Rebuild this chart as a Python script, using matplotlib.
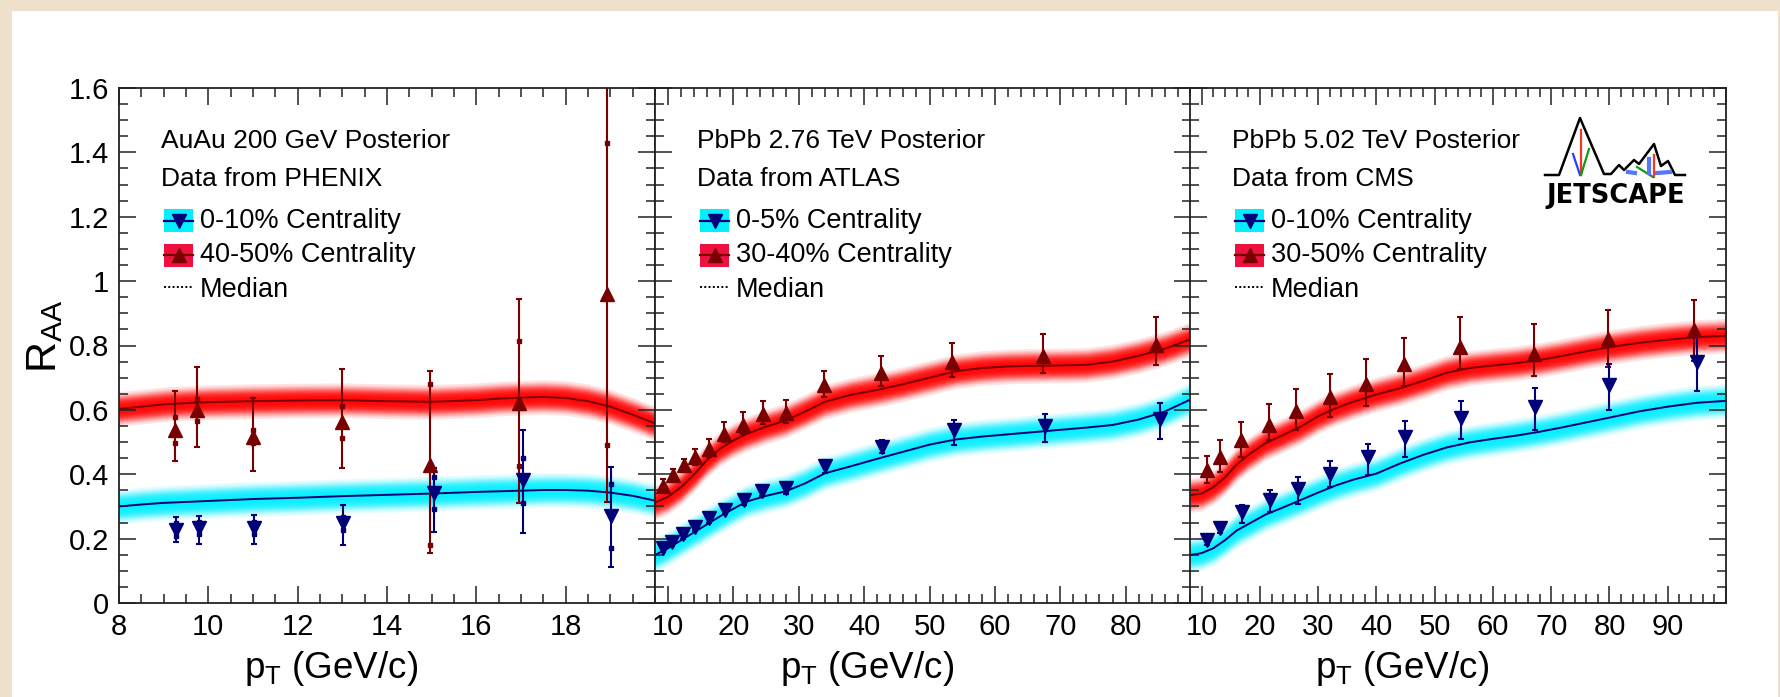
import numpy as np
import matplotlib
matplotlib.use("Agg")
import matplotlib.pyplot as plt
from matplotlib.patches import Rectangle
from matplotlib.lines import Line2D
from matplotlib.ticker import FixedLocator, FuncFormatter

plt.rcParams['font.family'] = ['Liberation Sans', 'DejaVu Sans']
plt.rcParams['mathtext.fontset'] = 'custom'
plt.rcParams['mathtext.rm'] = 'Liberation Sans'
plt.rcParams['mathtext.it'] = 'Liberation Sans:italic'
plt.rcParams['mathtext.bf'] = 'Liberation Sans:bold'

# ---------------- data ----------------
# panel 1: AuAu 200 GeV, PHENIX
p1_x_cen = [9.28, 9.78, 11.03, 13.02, 15.05, 17.05, 19.02]
p1_y_cen = [0.227, 0.233, 0.233, 0.248, 0.341, 0.382, 0.271]
p1_lo_cen = [0.188, 0.184, 0.184, 0.181, 0.222, 0.219, 0.112]
p1_hi_cen = [0.266, 0.269, 0.272, 0.303, 0.419, 0.537, 0.422]
p1_sys_cen = [0.02, 0.02, 0.02, 0.02, 0.05, 0.07, 0.10]
p1_x_per = [9.25, 9.75, 11.0, 13.0, 14.96, 16.95, 18.92]
p1_y_per = [0.537, 0.600, 0.517, 0.563, 0.429, 0.620, 0.960]
p1_lo_per = [0.442, 0.486, 0.411, 0.419, 0.155, 0.312, 0.315]
p1_hi_per = [0.658, 0.732, 0.638, 0.726, 0.721, 0.943, 1.70]
p1_sys_per = [0.04, 0.035, 0.02, 0.05, 0.25, 0.195, 0.47]
p1_curve_x = [8, 8.5, 9, 9.5, 10, 11, 12, 13, 14, 15, 16, 16.5, 17, 17.5, 18, 18.5, 19, 19.5, 20]
p1_med_per = [0.603, 0.61, 0.617, 0.621, 0.624, 0.627, 0.629, 0.63, 0.627, 0.625, 0.63,
              0.635, 0.638, 0.64, 0.637, 0.627, 0.61, 0.585, 0.558]
p1_med_cen = [0.300, 0.306, 0.311, 0.314, 0.317, 0.323, 0.327, 0.332, 0.336, 0.340, 0.345,
              0.347, 0.349, 0.351, 0.351, 0.349, 0.343, 0.333, 0.318]

# panel 2: PbPb 2.76 TeV, ATLAS
p2_x_cen = [9.2, 10.6, 12.3, 14.1, 16.2, 18.7, 21.6, 24.4, 28.0, 34.0, 42.7, 53.8, 67.6, 85.3]
p2_y_cen = [0.170, 0.190, 0.213, 0.237, 0.263, 0.290, 0.321, 0.348, 0.356, 0.425, 0.485, 0.536, 0.549, 0.573]
p2_lo_cen = [0.158, 0.178, 0.200, 0.224, 0.249, 0.275, 0.305, 0.331, 0.338, 0.405, 0.465, 0.490, 0.500, 0.510]
p2_hi_cen = [0.182, 0.202, 0.226, 0.250, 0.277, 0.305, 0.337, 0.365, 0.374, 0.445, 0.505, 0.570, 0.588, 0.620]
p2_x_per = [9.2, 10.8, 12.4, 14.1, 16.2, 18.55, 21.4, 24.5, 28.0, 33.9, 42.6, 53.5, 67.3, 84.7]
p2_y_per = [0.364, 0.397, 0.428, 0.454, 0.480, 0.524, 0.552, 0.586, 0.590, 0.676, 0.714, 0.748, 0.767, 0.803]
p2_lo_per = [0.344, 0.377, 0.408, 0.430, 0.455, 0.500, 0.525, 0.555, 0.560, 0.640, 0.673, 0.702, 0.715, 0.740]
p2_hi_per = [0.384, 0.417, 0.448, 0.480, 0.510, 0.562, 0.593, 0.627, 0.631, 0.720, 0.766, 0.807, 0.837, 0.887]
p2_curve_x = [8, 10, 12, 14, 16, 18, 20, 22, 25, 28, 31, 34, 38, 42, 46, 50, 54, 58, 62, 66,
              70, 74, 78, 82, 86, 90]
p2_med_per = [0.312, 0.33, 0.36, 0.40, 0.445, 0.48, 0.505, 0.525, 0.548, 0.567, 0.595, 0.625,
              0.647, 0.662, 0.68, 0.70, 0.72, 0.73, 0.735, 0.737, 0.738, 0.74, 0.75, 0.768, 0.79, 0.82]
p2_med_cen = [0.149, 0.17, 0.195, 0.22, 0.245, 0.27, 0.293, 0.315, 0.333, 0.347, 0.372, 0.403,
              0.425, 0.448, 0.47, 0.492, 0.508, 0.517, 0.524, 0.531, 0.538, 0.545, 0.553, 0.57,
              0.595, 0.633]

# panel 3: PbPb 5.02 TeV, CMS
p3_x_cen = [10.9, 13.2, 16.9, 21.7, 26.5, 32.0, 38.5, 44.9, 54.5, 67.3, 80.0, 95.0]
p3_y_cen = [0.195, 0.232, 0.283, 0.321, 0.353, 0.402, 0.454, 0.516, 0.575, 0.609, 0.676, 0.748]
p3_lo_cen = [0.180, 0.217, 0.249, 0.283, 0.309, 0.360, 0.397, 0.454, 0.511, 0.536, 0.600, 0.660]
p3_hi_cen = [0.210, 0.247, 0.306, 0.350, 0.392, 0.441, 0.495, 0.565, 0.629, 0.668, 0.743, 0.830]
p3_x_per = [10.9, 13.2, 16.7, 21.5, 26.2, 32.0, 38.2, 44.7, 54.3, 67.0, 79.7, 94.5]
p3_y_per = [0.414, 0.454, 0.505, 0.552, 0.595, 0.640, 0.681, 0.741, 0.795, 0.774, 0.820, 0.847]
p3_lo_per = [0.373, 0.407, 0.454, 0.505, 0.538, 0.578, 0.612, 0.673, 0.728, 0.704, 0.733, 0.753]
p3_hi_per = [0.457, 0.507, 0.562, 0.619, 0.664, 0.710, 0.757, 0.824, 0.888, 0.867, 0.911, 0.940]
p3_curve_x = [8, 10, 12, 14, 16, 18, 21, 24, 27, 30, 33, 36, 40, 44, 48, 52, 56, 60, 64, 68,
              72, 76, 80, 85, 90, 95, 100]
p3_med_per = [0.335, 0.34, 0.36, 0.39, 0.43, 0.46, 0.497, 0.522, 0.548, 0.58, 0.605, 0.625,
              0.648, 0.667, 0.69, 0.715, 0.73, 0.738, 0.745, 0.755, 0.768, 0.782, 0.795, 0.808,
              0.818, 0.826, 0.83]
p3_med_cen = [0.149, 0.155, 0.17, 0.195, 0.225, 0.245, 0.275, 0.297, 0.32, 0.343, 0.365, 0.383,
              0.402, 0.433, 0.46, 0.483, 0.499, 0.51, 0.52, 0.532, 0.546, 0.561, 0.576, 0.595,
              0.61, 0.622, 0.628]

headers = ["AuAu 200 GeV Posterior", "PbPb 2.76 TeV Posterior", "PbPb 5.02 TeV Posterior"]
sources = ["Data from PHENIX", "Data from ATLAS", "Data from CMS"]
cen_labels = ["0-10% Centrality", "0-5% Centrality", "0-10% Centrality"]
per_labels = ["40-50% Centrality", "30-40% Centrality", "30-50% Centrality"]
x_ranges = [(8, 20), (8, 90), (8, 100)]
x_major = [[8, 10, 12, 14, 16, 18, 20], list(range(10, 100, 10)), list(range(10, 110, 10))]
x_minor_step = [0.5, 2, 2]

# ---------------- style ----------------
W, H = 1780, 697
RED, CYAN = '#ff0000', '#00f0ff'
DRED, NAVY = '#780000', '#000078'
BAND_SIG = 0.021

fig = plt.figure(figsize=(W / 100, H / 100), dpi=100)
fig.patch.set_facecolor('#efe0cb')
fig.add_artist(Rectangle((12 / W, 0), (1778 - 12) / W, (H - 11) / H, transform=fig.transFigure,
                         facecolor='white', edgecolor='none', zorder=-5))

lefts = [119, 655, 1190]
pw, top, bot = 536, 88, 603


def band(ax, x, y, color, sig, n=26, a=0.11):
    x = np.asarray(x, float)
    y = np.asarray(y, float)
    for k in range(1, n + 1):
        w = sig * np.sqrt(-2 * np.log(k / (n + 1)))
        ax.fill_between(x, y - w, y + w, color=color, alpha=a, lw=0, zorder=1)


def points(ax, x, y, lo, hi, color, marker, sys=None):
    x = np.asarray(x); y = np.asarray(y)
    lo = np.asarray(lo); hi = np.asarray(hi)
    ax.errorbar(x, y, yerr=[y - lo, hi - y], fmt='none', ecolor=color, elinewidth=1.5,
                capsize=2.5, capthick=1.5, zorder=3)
    if sys is not None:
        s = np.asarray(sys)
        ax.plot(x, y + s, 's', ms=3.2, color=color, zorder=3)
        ax.plot(x, y - s, 's', ms=3.2, color=color, zorder=3)
    ax.plot(x, y, marker=marker, ls='none', ms=10.5, color=color, mec=color, zorder=4)


panels = [
    (p1_curve_x, p1_med_cen, p1_med_per, (p1_x_cen, p1_y_cen, p1_lo_cen, p1_hi_cen, p1_sys_cen),
     (p1_x_per, p1_y_per, p1_lo_per, p1_hi_per, p1_sys_per)),
    (p2_curve_x, p2_med_cen, p2_med_per, (p2_x_cen, p2_y_cen, p2_lo_cen, p2_hi_cen, None),
     (p2_x_per, p2_y_per, p2_lo_per, p2_hi_per, None)),
    (p3_curve_x, p3_med_cen, p3_med_per, (p3_x_cen, p3_y_cen, p3_lo_cen, p3_hi_cen, None),
     (p3_x_per, p3_y_per, p3_lo_per, p3_hi_per, None)),
]

for i, (cx, mcen, mper, cen, per) in enumerate(panels):
    ax = fig.add_axes([lefts[i] / W, (H - bot) / H, pw / W, (bot - top) / H])
    ax.set_xlim(*x_ranges[i])
    ax.set_ylim(0, 1.6)

    band(ax, cx, mper, RED, BAND_SIG)
    band(ax, cx, mcen, CYAN, BAND_SIG)
    ax.plot(cx, mper, color=DRED, lw=1.4, zorder=2)
    ax.plot(cx, mcen, color=NAVY, lw=1.4, zorder=2)
    points(ax, *per[:4], DRED, '^', per[4])
    points(ax, *cen[:4], NAVY, 'v', cen[4])

    hi_edge = x_ranges[i][1]
    ax.xaxis.set_major_locator(FixedLocator(x_major[i]))
    ax.xaxis.set_minor_locator(FixedLocator(np.arange(x_ranges[i][0], hi_edge + 0.01, x_minor_step[i])))
    ax.xaxis.set_major_formatter(FuncFormatter(lambda v, p, e=hi_edge: '' if abs(v - e) < 1e-6 else '%g' % v))
    ax.yaxis.set_major_locator(FixedLocator(np.arange(0, 1.61, 0.2)))
    ax.yaxis.set_minor_locator(FixedLocator(np.arange(0, 1.61, 0.05)))
    ax.yaxis.set_major_formatter(FuncFormatter(lambda v, p: '%g' % round(v, 2)))
    ax.tick_params(which='both', direction='in', top=True, right=True, color='#222222',
                   width=1.1, labelsize=21, pad=7)
    ax.tick_params(which='major', length=12)
    ax.tick_params(which='minor', length=6.5)
    if i > 0:
        ax.tick_params(labelleft=False)
    for sp in ax.spines.values():
        sp.set_linewidth(1.3)
        sp.set_color('#222222')

    # legend, positions in pixels from panel's left / figure top
    def fx(dx):
        return dx / pw

    def fy(y):
        return (bot - y) / (bot - top)

    ax.text(fx(42), fy(148), headers[i], transform=ax.transAxes, fontsize=19, va='baseline')
    ax.text(fx(42), fy(186), sources[i], transform=ax.transAxes, fontsize=19, va='baseline')
    for yc, fc, col, mk, lab in [(220.5, CYAN, NAVY, 'v', cen_labels[i]),
                                 (255, '#ee1140', DRED, '^', per_labels[i])]:
        ax.add_patch(Rectangle((fx(45), fy(yc + 11.5)), fx(29), 23 / (bot - top), transform=ax.transAxes,
                               facecolor=fc, edgecolor='none', zorder=5))
        ax.plot([fx(45), fx(74)], [fy(yc), fy(yc)], color=col, lw=1.6, transform=ax.transAxes, zorder=6)
        ax.plot([fx(59.5)], [fy(yc)], marker=mk, ms=10, color=col, transform=ax.transAxes, zorder=7)
        ax.text(fx(81), fy(yc + 7.5), lab, transform=ax.transAxes, fontsize=19.5, va='baseline')
    ax.plot([fx(45), fx(74)], [fy(287), fy(287)], color='black', lw=1.4, ls=(0, (1, 1.2)),
            transform=ax.transAxes, zorder=6)
    ax.text(fx(81), fy(297), "Median", transform=ax.transAxes, fontsize=19.5, va='baseline')

    # x axis title
    fig.text((lefts[i] + pw / 2 - 56) / W, (H - 678) / H, r'p$_{\mathrm{T}}$ (GeV/c)',
             fontsize=26.5, ha='center', va='baseline')

fig.text(45 / W, 1 - 336 / H, r'R$_{\mathrm{AA}}$', rotation=90, fontsize=31, ha='center', va='center')


# JETSCAPE logo (panel 3, top right)
def fpx(xs, ys):
    return [x / W for x in xs], [1 - y / H for y in ys]


logo_lines = [
    ([1545, 1559, 1580, 1604, 1611, 1619, 1624, 1634, 1639, 1654, 1661, 1668, 1675, 1685],
     [175, 175, 118, 174, 174, 165, 170, 160, 164, 144, 166, 161, 175, 175], 'black', 1.8),
    ([1581, 1581], [130, 175], '#ff3322', 1.6),
    ([1573, 1580], [154, 175], '#2244ff', 1.6),
    ([1589, 1581], [149, 175], '#119911', 1.6),
    ([1654, 1654], [155, 177], '#ff3322', 1.6),
    ([1637, 1653], [167, 177], '#119911', 1.6),
    ([1628, 1635], [172, 173], '#5577ff', 3.0),
    ([1657, 1670], [173, 172], '#5577ff', 3.0),
    ([1649, 1649], [159, 173], '#5577ff', 3.0),
]
for xs, ys, c, lw in logo_lines:
    fxs, fys = fpx(xs, ys)
    fig.add_artist(Line2D(fxs, fys, color=c, lw=lw, transform=fig.transFigure, zorder=10))
fig.text(1615.5 / W, 1 - 203 / H, "JETSCAPE", family='DejaVu Sans', fontweight='bold',
         fontsize=18.5, ha='center', va='baseline', zorder=10)

fig.savefig("out.png", dpi=100, facecolor=fig.get_facecolor())
